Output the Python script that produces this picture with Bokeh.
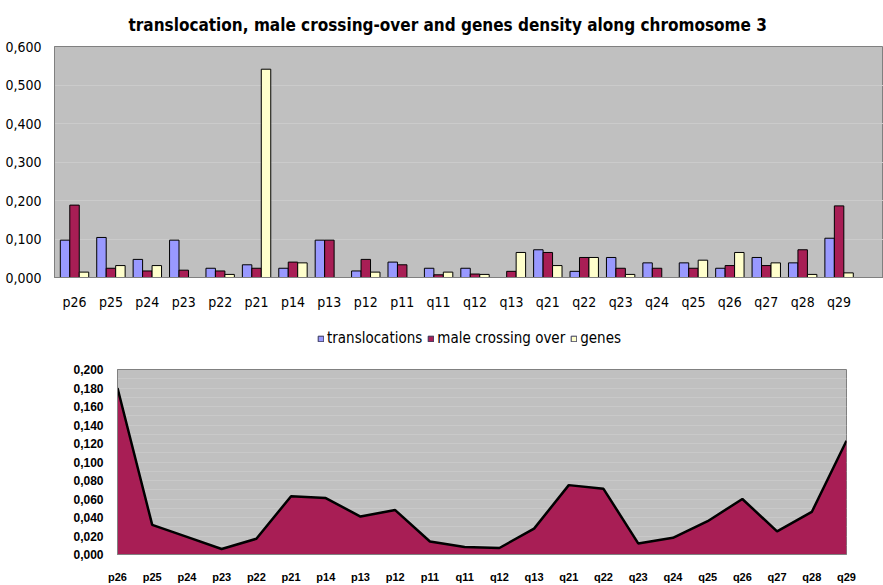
from bokeh.plotting import figure
from bokeh.layouts import column
from bokeh.models import (FixedTicker, CustomJSTickFormatter, Legend, LegendItem,
                          Range1d, ColumnDataSource)
from bokeh.transform import dodge
from bokeh.embed import file_html
from bokeh.resources import INLINE

# ---------------- data ----------------
bands = ["p26", "p25", "p24", "p23", "p22", "p21", "p14", "p13", "p12", "p11",
         "q11", "q12", "q13", "q21", "q22", "q23", "q24", "q25", "q26", "q27",
         "q28", "q29"]

translocations = [0.097, 0.104, 0.047, 0.097, 0.024, 0.033, 0.024, 0.097, 0.017, 0.040,
                  0.024, 0.024, 0.000, 0.072, 0.016, 0.052, 0.038, 0.038, 0.024, 0.052,
                  0.038, 0.102]
male_crossing_over = [0.188, 0.024, 0.017, 0.019, 0.017, 0.024, 0.040, 0.097, 0.047, 0.033,
                      0.007, 0.009, 0.016, 0.065, 0.052, 0.024, 0.024, 0.024, 0.031, 0.031,
                      0.072, 0.186]
genes = [0.014, 0.031, 0.031, 0.000, 0.008, 0.541, 0.038, 0.000, 0.014, 0.000,
         0.014, 0.008, 0.065, 0.031, 0.052, 0.008, 0.000, 0.045, 0.065, 0.038,
         0.008, 0.012]

crossing_profile = [0.180, 0.032, 0.019, 0.006, 0.017, 0.063, 0.061, 0.041, 0.048, 0.014,
                    0.008, 0.007, 0.028, 0.075, 0.071, 0.012, 0.018, 0.036, 0.060, 0.025,
                    0.046, 0.123]

series_names = ["translocations", "male crossing over", "genes"]
title_text = "translocation, male crossing-over and genes density along chromosome 3"
top_yticks = [0.0, 0.1, 0.2, 0.3, 0.4, 0.5, 0.6]
bottom_yticks = [0.0, 0.02, 0.04, 0.06, 0.08, 0.10, 0.12, 0.14, 0.16, 0.18, 0.20]
bottom_minor = [0.01, 0.03, 0.05, 0.07, 0.09, 0.11, 0.13, 0.15, 0.17, 0.19]

# ---------------- styles ----------------
BG = "#c0c0c0"
COLORS = ["#9999ff", "#a81e55", "#ffffcc"]
NARROW = "DejaVu Sans Condensed"
ARIAL = "Liberation Sans"
W = 883

comma_fmt = CustomJSTickFormatter(code="return tick.toFixed(3).replace('.', ',');")

# ---------------- top chart ----------------
n = len(bands)
src = ColumnDataSource(dict(x=[i + 0.5 for i in range(n)], trans=translocations,
                            male=male_crossing_over, genes=genes))

p1 = figure(width=W, height=318, output_backend="svg", toolbar_location=None,
            x_range=Range1d(-0.05, 22.72), y_range=Range1d(0, 0.6),
            min_border_left=54, min_border_right=0, min_border_top=45,
            min_border_bottom=41, background_fill_color=BG,
            outline_line_color="#808080", border_fill_color="white",
            frame_align=False)
p1.title.text = title_text
p1.title.align = "left"
p1.title.offset = 74
p1.title.text_font = NARROW
p1.title.text_font_size = "17px"
p1.title.text_font_style = "bold"
p1.title.text_color = "black"
p1.title.standoff = 24

w = 0.26
for off, col, c in zip((-w, 0, w), ("trans", "male", "genes"), COLORS):
    p1.vbar(x=dodge("x", off, range=p1.x_range), top=col, width=w, source=src,
            fill_color=c, line_color="black", line_width=1)

p1.xaxis.ticker = FixedTicker(ticks=[i + 0.5 for i in range(n)])
p1.xaxis.formatter = CustomJSTickFormatter(args=dict(labels=bands),
                                           code="return labels[Math.round(tick - 0.5)];")
p1.yaxis.ticker = FixedTicker(ticks=top_yticks)
p1.yaxis.formatter = comma_fmt
for ax in (p1.xaxis, p1.yaxis):
    ax.major_tick_line_color = None
    ax.minor_tick_line_color = None
    ax.major_label_text_font = NARROW
    ax.major_label_text_font_size = "14px"
    ax.major_label_text_color = "black"
    ax.axis_line_color = "#808080"
p1.xaxis.major_label_standoff = 10
p1.yaxis.major_label_standoff = 7
p1.xgrid.grid_line_color = None
p1.ygrid.grid_line_color = "#cbcbcb"
p1.ygrid.grid_line_width = 1

# ---------------- legend strip ----------------
pl = figure(width=W, height=40, output_backend="svg", toolbar_location=None,
            x_range=Range1d(0, 1), y_range=Range1d(0, 1),
            min_border_left=0, min_border_right=0, min_border_top=0,
            min_border_bottom=0, outline_line_color=None,
            background_fill_color="white", border_fill_color="white",
            frame_align=False)
pl.axis.visible = False
pl.grid.visible = False
items = []
for name, c in zip(series_names, COLORS):
    # hidden stand-in renderer (outside the visible range) just for the legend swatch
    r = pl.vbar(x=[-5], top=[-5], width=0.1, fill_color=c, line_color="#333355",
                line_width=1)
    items.append(LegendItem(label=name, renderers=[r]))
legend = Legend(items=items, orientation="horizontal", location=(317, 11),
                label_text_font=NARROW, label_text_font_size="15px",
                label_text_color="black",
                glyph_width=7, glyph_height=7, label_standoff=3, spacing=5,
                padding=0, margin=0, border_line_color=None,
                background_fill_alpha=0)
pl.add_layout(legend)

# ---------------- bottom chart ----------------
src2 = ColumnDataSource(dict(x=list(range(n)), y=crossing_profile))
p2 = figure(width=W, height=227, output_backend="svg", toolbar_location=None,
            x_range=Range1d(0, n - 1), y_range=Range1d(0, 0.2),
            min_border_left=117, min_border_right=W - 117 - 729, min_border_top=11,
            min_border_bottom=27, background_fill_color=BG,
            outline_line_color="#808080", border_fill_color="white",
            frame_align=False)
p2.varea(x="x", y1=0, y2="y", source=src2, fill_color=COLORS[1])
p2.line(x="x", y="y", source=src2, line_color="black", line_width=2.5)

p2.xaxis.ticker = FixedTicker(ticks=list(range(n)))
p2.xaxis.formatter = CustomJSTickFormatter(args=dict(labels=bands),
                                           code="return labels[Math.round(tick)];")
p2.yaxis.ticker = FixedTicker(ticks=bottom_yticks, minor_ticks=bottom_minor)
p2.yaxis.formatter = comma_fmt
for ax in (p2.xaxis, p2.yaxis):
    ax.major_tick_line_color = None
    ax.minor_tick_line_color = None
    ax.major_label_text_font = ARIAL
    ax.major_label_text_font_style = "bold"
    ax.major_label_text_color = "black"
    ax.axis_line_color = "#808080"
p2.xaxis.major_label_text_font_size = "11px"
p2.yaxis.major_label_text_font_size = "12px"
p2.xaxis.major_label_standoff = 10
p2.yaxis.major_label_standoff = 8
p2.xgrid.grid_line_color = None
p2.ygrid.grid_line_color = "#c9c9c9"
p2.ygrid.minor_grid_line_color = "#c9c9c9"

layout = column(p1, pl, p2, spacing=0)
open("out.html", "w").write(file_html(layout, INLINE))
